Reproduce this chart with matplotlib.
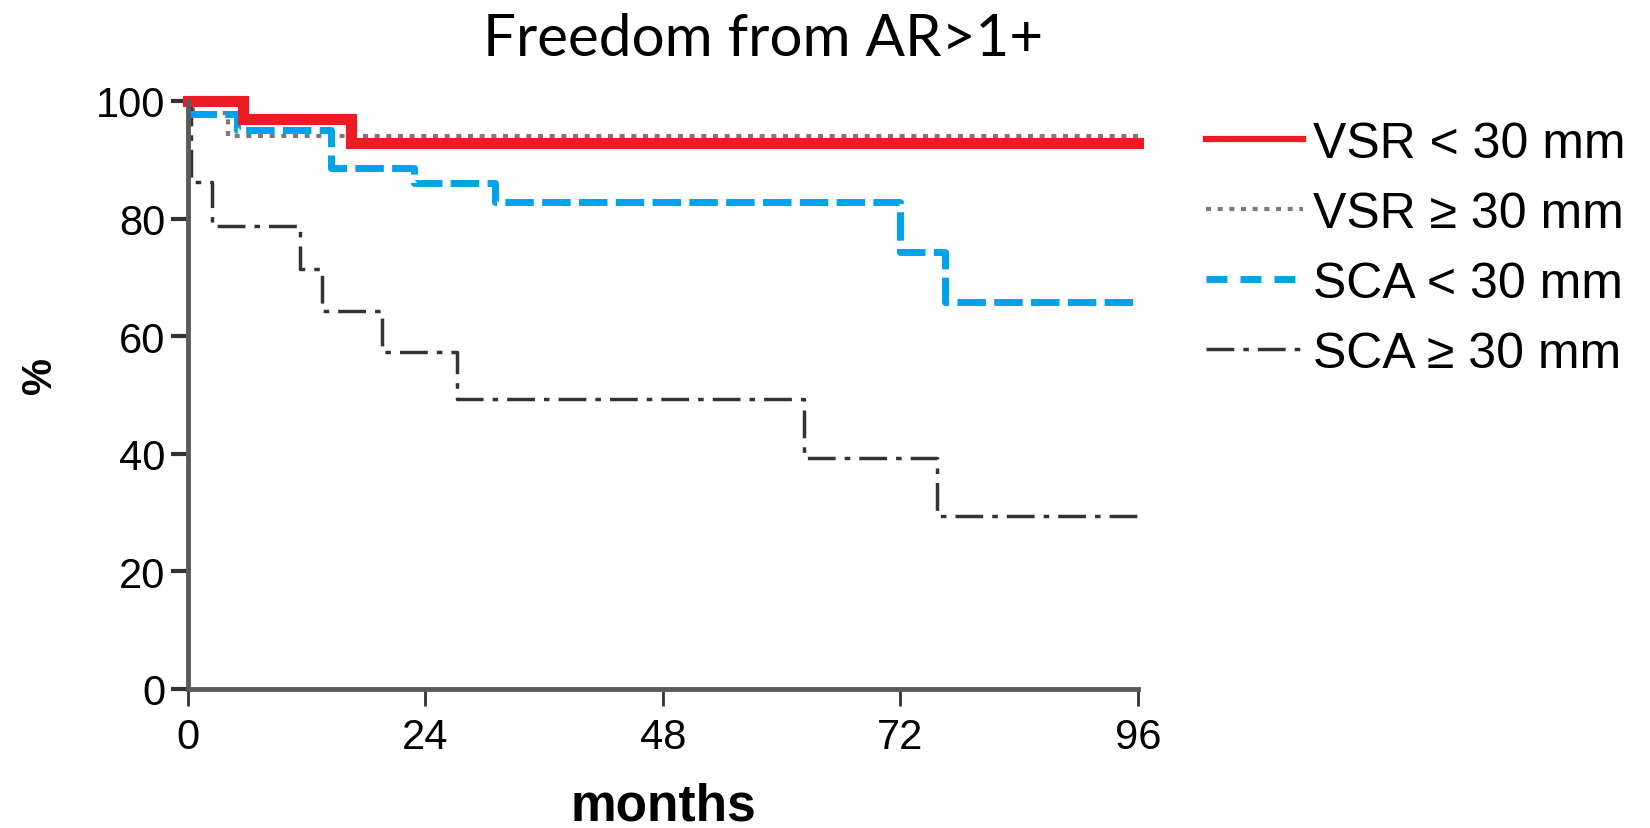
import matplotlib
matplotlib.use("Agg")
import matplotlib.pyplot as plt
from matplotlib.lines import Line2D

plt.rcParams['font.family'] = ['Liberation Sans', 'DejaVu Sans']

# Kaplan-Meier style step data (months, % free from AR>1+)
vsr_lt_months = [0, 5.6, 16.5, 96]
vsr_lt_pct = [100, 96.9, 92.8, 92.8]

vsr_ge_months = [0, 0.5, 4, 96]
vsr_ge_pct = [100, 98, 94, 94]

sca_lt_months = [0, 5, 14.5, 22.8, 31, 72, 76.5, 96]
sca_lt_pct = [97.8, 95, 88.6, 86, 82.8, 74.3, 65.8, 65.8]

sca_ge_months = [0, 0.3, 2.4, 11.3, 13.5, 19.6, 27.2, 62.3, 75.7, 96]
sca_ge_pct = [100, 86.3, 78.7, 71.4, 64.3, 57.3, 49.3, 39.3, 29.4, 29.4]

labels = ["VSR < 30 mm", "VSR \u2265 30 mm", "SCA < 30 mm", "SCA \u2265 30 mm"]
xticks = [0, 24, 48, 72, 96]
yticks = [0, 20, 40, 60, 80, 100]

RED = "#ED1C24"
BLUE = "#00A2E8"
GRAY = "#7A7A7A"
DARK = "#333333"
AXIS = "#5A5A5A"

fig = plt.figure(figsize=(16.5, 8.29), dpi=100)
ax = fig.add_axes([0.1139, 0.1677, 0.5758, 0.7093])

ax.step(vsr_ge_months, vsr_ge_pct, where="post", color=GRAY, lw=3,
        linestyle=(0, (1.2, 1.6)), clip_on=False)
ax.step(sca_ge_months, sca_ge_pct, where="post", color=DARK, lw=2.5,
        linestyle=(0, (8, 2.6, 1.6, 2.6)), clip_on=False)
ax.step(sca_lt_months, sca_lt_pct, where="post", color=BLUE, lw=5,
        linestyle=(0, (4.1, 1.2)), clip_on=False)
ax.step(vsr_lt_months, vsr_lt_pct, where="post", color=RED, lw=8,
        clip_on=False, solid_joinstyle="miter")

ax.set_xlim(0, 96)
ax.set_ylim(0, 100)
ax.set_xticks(xticks)
ax.set_yticks(yticks)

for side in ["top", "right"]:
    ax.spines[side].set_visible(False)
for side in ["left", "bottom"]:
    ax.spines[side].set_color(AXIS)
    ax.spines[side].set_linewidth(3.5)

ax.tick_params(axis="y", direction="out", length=12, width=3, color=DARK,
               labelsize=30, pad=4)
ax.tick_params(axis="x", direction="out", length=12, width=2, color=DARK,
               labelsize=30, pad=8)

ax.set_xlabel("months", fontsize=37, fontweight="bold", va="top")
ax.xaxis.set_label_coords(0.5, -0.157)
ax.set_ylabel("%", fontsize=30, fontweight="bold", va="center")
ax.yaxis.set_label_coords(-0.156, 0.534)

fig.text(0.4624, 0.952, "Freedom from AR>1+", fontsize=42, family="Lato",
         ha="center", va="center")

handles = [
    Line2D([], [], color=RED, lw=4.5),
    Line2D([], [], color=GRAY, lw=3, linestyle=(0, (1.2, 1.6))),
    Line2D([], [], color=BLUE, lw=5, linestyle=(0, (3, 1.9))),
    Line2D([], [], color=DARK, lw=2.5, linestyle=(0, (8, 2.6, 1.6, 2.6))),
]
ax.legend(handles, labels, loc="center left", bbox_to_anchor=(0.731, 0.699),
          bbox_transform=fig.transFigure, frameon=False, fontsize=36,
          handlelength=1.93, handletextpad=0.2, labelspacing=0.48,
          borderpad=0, borderaxespad=0)

fig.savefig("out.png", dpi=100)
